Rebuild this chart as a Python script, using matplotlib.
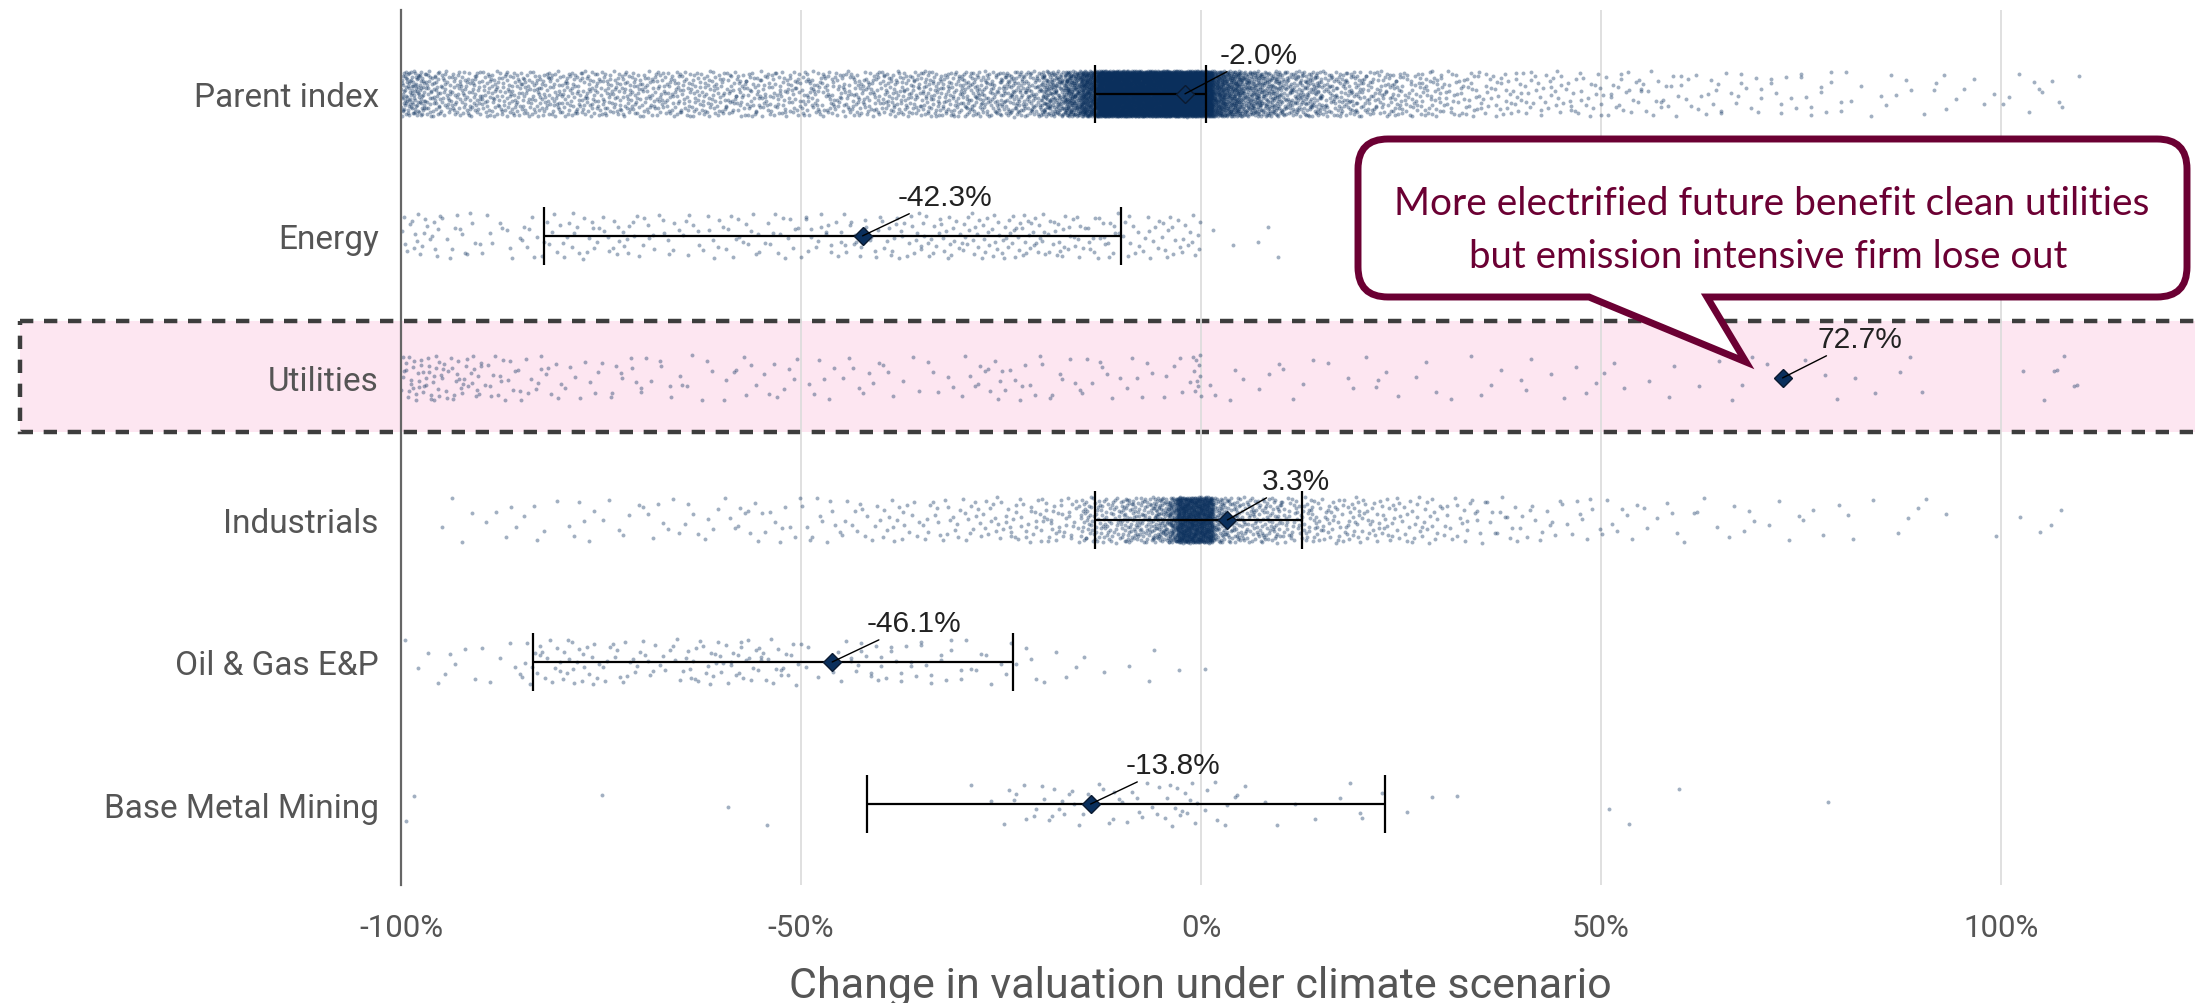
import numpy as np
import matplotlib.pyplot as plt
from matplotlib.path import Path
from matplotlib.patches import PathPatch, Rectangle
from matplotlib.transforms import blended_transform_factory

# Sectors, top to bottom
sectors = ['Parent index', 'Energy', 'Utilities', 'Industrials', 'Oil & Gas E&P', 'Base Metal Mining']

# Mean change in valuation (%) and the whisker range per sector
means = [-2.0, -42.3, 72.7, 3.3, -46.1, -13.8]
lower = [-13.2, -82.1, np.nan, -13.2, -83.5, -41.8]
upper = [0.6, -10.0, np.nan, 12.6, -23.5, 23.0]

# Firm counts per valuation-change bin (bin edges in %)
parent_edges = [-100, -97, -95, -90, -85, -80, -75, -70, -65, -60, -55, -50, -45, -40, -35, -30, -25, -20, -17,
                -15, -13, -10, -5, 0, 1.5, 3, 5, 7.5, 10, 15, 20, 25, 30, 35, 40, 45, 50, 55, 60, 65, 70, 75,
                80, 85, 90, 95, 100, 105, 110]
parent_counts = [110, 50, 105, 100, 100, 95, 95, 90, 85, 85, 80, 85, 90, 100, 110, 125, 150, 160, 190,
                 320, 1000, 1600, 1700, 450, 220, 220, 170, 130, 180, 120, 90, 70, 48, 36, 30, 25, 22, 18, 14,
                 12, 10, 10, 6, 5, 6, 4, 6, 5]

energy_edges = [-100, -95, -90, -85, -80, -75, -70, -65, -60, -55, -50, -45, -40, -35, -30, -25, -20, -15, -10,
                -5, 0, 5, 10]
energy_counts = [22, 14, 10, 15, 18, 18, 14, 14, 16, 14, 18, 20, 22, 25, 28, 32, 28, 22, 18, 22, 2, 3]

utilities_edges = [-100, -95, -90, -85, -80, -75, -70, -65, -60, -55, -50, -45, -40, -35, -30, -25, -20, -15,
                   -10, -5, -1, 0, 5, 10, 15, 20, 25, 30, 35, 40, 45, 50, 55, 60, 65, 70, 75, 80, 85, 90, 95, 105,
                   110]
utilities_counts = [40, 30, 18, 14, 8, 10, 8, 6, 8, 8, 6, 8, 6, 5, 12, 10, 8, 8, 6, 6, 10, 4, 4, 4, 3, 5, 3, 2, 4,
                    3, 4, 3, 3, 2, 3, 2, 3, 2, 2, 1, 1, 6]

industrials_edges = [-95, -90, -85, -80, -75, -70, -65, -60, -55, -50, -45, -40, -35, -30, -25, -20, -15, -10,
                     -6, -4, -3, 1.5, 3, 5, 10, 15, 20, 25, 30, 35, 40, 45, 50, 55, 60, 65, 70, 75, 80, 85, 90,
                     95, 100, 105, 110]
industrials_counts = [4, 5, 5, 6, 6, 8, 8, 10, 10, 12, 14, 18, 20, 24, 30, 40, 90, 110, 90, 80, 850, 70, 60, 110,
                      70, 50, 40, 30, 22, 16, 12, 10, 8, 6, 5, 5, 4, 4, 3, 3, 2, 1, 2, 2]

oilgas_edges = [-100, -95, -90, -85, -80, -75, -70, -65, -60, -55, -50, -45, -40, -35, -30, -25, -20, -15, -10,
                -5, 0, 1]
oilgas_counts = [4, 5, 6, 18, 20, 16, 14, 20, 22, 18, 6, 14, 12, 10, 8, 6, 4, 2, 3, 1, 1]

mining_edges = [-100, -98, -75, -72, -60, -58, -55, -52, -30, -25, -20, -15, -10, -5, 0, 5, 10, 15, 20, 25, 30,
                35, 50, 55, 60, 75, 80]
mining_counts = [2, 0, 1, 0, 1, 0, 1, 0, 2, 8, 12, 10, 10, 14, 8, 3, 2, 3, 2, 2, 1, 0, 2, 1, 0, 1]

distributions = [(parent_edges, parent_counts), (energy_edges, energy_counts),
                 (utilities_edges, utilities_counts), (industrials_edges, industrials_counts),
                 (oilgas_edges, oilgas_counts), (mining_edges, mining_counts)]

xticks = [-100, -50, 0, 50, 100]
xticklabels = ['-100%', '-50%', '0%', '50%', '100%']

NAVY = '#0a2f5c'
MAROON = '#6b0033'
GREY = '#555555'
W, H = 2195, 1004

fig = plt.figure(figsize=(W / 100, H / 100), dpi=100)
ax = fig.add_axes([401 / W, 1 - 886 / H, 1 - 401 / W, 875 / H])
ax.set_xlim(-100, 124.25)
ax.set_ylim(5.57, -0.59)

# highlight band behind the Utilities row
band_tr = blended_transform_factory(fig.transFigure, ax.transData)
ax.add_patch(Rectangle((20 / W, 1.6), 1.0, 0.78, transform=band_tr, facecolor='#fde6f1',
                       edgecolor='#3d3d3d', lw=3.2, ls=(0, (3, 2.4)), clip_on=False, zorder=0))


def halton(k, base):
    k = k.copy()
    out = np.zeros(len(k))
    f = 1.0
    while k.any():
        f /= base
        out += f * (k % base)
        k //= base
    return out


# spread each bin's firms through the bin with a Halton sequence
def spread(edges, counts, row):
    xs, ys = [], []
    for b, n in enumerate(counts):
        lo, hi = edges[b], edges[b + 1]
        k = np.arange(n) + 1 + 131 * (b + 7 * row)
        xs.append(lo + (hi - lo) * halton(k, 2))
        ys.append(row + 0.16 * (2 * halton(k, 3) - 1))
    return np.concatenate(xs), np.concatenate(ys)


for row, (edges, counts) in enumerate(distributions):
    x, y = spread(edges, counts, row)
    ax.scatter(x, y, s=8, color=NAVY, alpha=0.38, linewidths=0, zorder=2)

rows = np.arange(len(sectors))
m = np.array(means)
ax.errorbar(m, rows, xerr=[m - np.array(lower), np.array(upper) - m], fmt='none', ecolor='black',
            elinewidth=1.6, capsize=21, capthick=1.6, zorder=3)
ax.plot(m, rows, 'D', ms=9, color=NAVY, mec='#0a1a30', mew=1, zorder=4)

for row, val in enumerate(means):
    ax.annotate(f'{val:.1f}%', xy=(val, row), xytext=(25, 28), textcoords='offset points',
                ha='left', va='center', fontsize=21.5, family='Liberation Sans', color='#222222',
                arrowprops=dict(arrowstyle='-', color='black', lw=1, shrinkA=0, shrinkB=0), zorder=5)

ax.set_yticks(rows)
ax.set_yticklabels(sectors, family='Roboto', fontsize=24, color=GREY)
ax.set_xticks(xticks)
ax.set_xticklabels(xticklabels, family='Roboto', fontsize=22.5, color=GREY)
ax.tick_params(axis='both', length=0)
ax.tick_params(axis='x', pad=20)
ax.tick_params(axis='y', pad=16)

ax.set_xlabel('Change in valuation under climate scenario', family='Roboto', fontsize=31, color=GREY)
ax.xaxis.set_label_coords((1200 - 401) / (W - 401), -0.115)
ax.xaxis.label.set_va('center')

ax.grid(axis='x', color='#dddddd', lw=1.3)
ax.set_axisbelow(True)
for s in ['top', 'right', 'bottom']:
    ax.spines[s].set_visible(False)
ax.spines['left'].set_color('#666666')
ax.spines['left'].set_linewidth(1.6)
ax.patch.set_alpha(0)


# speech-bubble callout, laid out in pixels from the top-left corner
def px(x, y):
    return (x / W, 1 - y / H)


x0, x1, y0, y1, r = 1358, 2187, 140, 298, 30
xa, xb, tip = 1589, 1707, (1746, 363)
verts = [px(xa, y1), px(*tip), px(xb, y1), px(x1 - r, y1), px(x1, y1), px(x1, y1 - r),
         px(x1, y0 + r), px(x1, y0), px(x1 - r, y0), px(x0 + r, y0), px(x0, y0), px(x0, y0 + r),
         px(x0, y1 - r), px(x0, y1), px(x0 + r, y1), px(xa, y1), px(xa, y1)]
codes = [Path.MOVETO, Path.LINETO, Path.LINETO, Path.LINETO, Path.CURVE3, Path.CURVE3,
         Path.LINETO, Path.CURVE3, Path.CURVE3, Path.LINETO, Path.CURVE3, Path.CURVE3,
         Path.LINETO, Path.CURVE3, Path.CURVE3, Path.LINETO, Path.CLOSEPOLY]
fig.patches.append(PathPatch(Path(verts, codes), transform=fig.transFigure, facecolor='white',
                             edgecolor=MAROON, lw=5, joinstyle='miter', zorder=10))

fig.text(*px(1772, 204), 'More electrified future benefit clean utilities', family='Lato', fontsize=28,
         color=MAROON, ha='center', va='center', zorder=11)
fig.text(*px(1768, 257), 'but emission intensive firm lose out', family='Lato', fontsize=27.6,
         color=MAROON, ha='center', va='center', zorder=11)

fig.savefig('out.png', dpi=100)
